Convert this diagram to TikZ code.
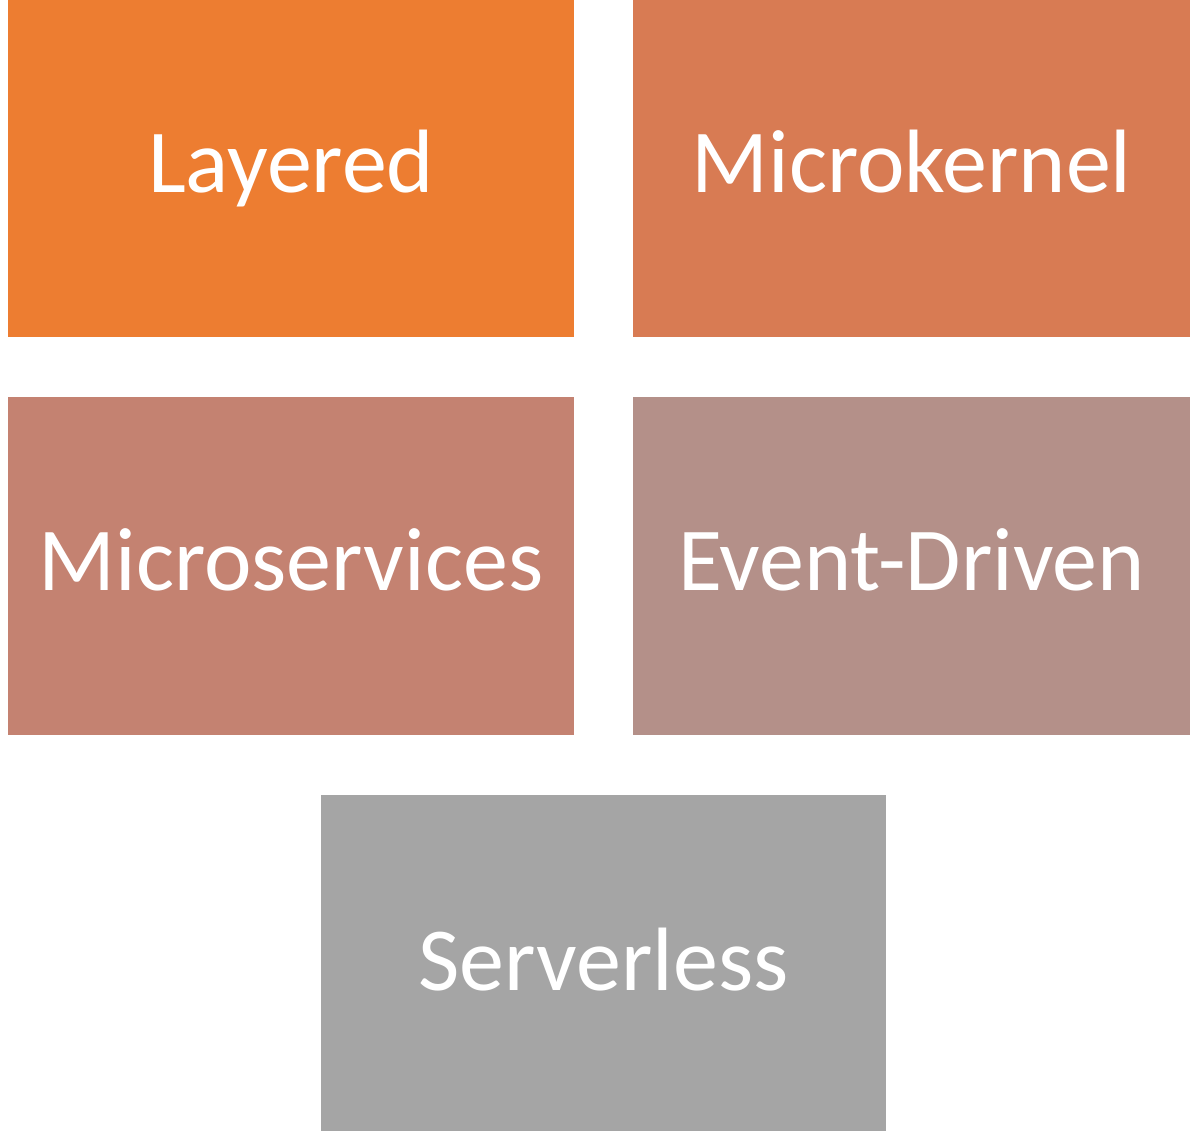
\documentclass[tikz,border=0pt]{standalone}
\usepackage{fontspec}
\setmainfont{Carlito}
\definecolor{clayered}{HTML}{ED7D31}
\definecolor{cmicrokernel}{HTML}{D87B53}
\definecolor{cmicroservices}{HTML}{C48271}
\definecolor{ceventdriven}{HTML}{B49089}
\definecolor{cserverless}{HTML}{A5A5A5}
\begin{document}
\begin{tikzpicture}[x=1pt,y=-1pt,
  tile/.style={draw=none,inner sep=0pt,minimum width=566pt,minimum height=337pt,
    text height=49pt,text depth=0pt,
    text=white,font=\fontsize{90}{100}\selectfont}]
  \useasboundingbox (0,0) rectangle (1190,1131);
  % two rows of pattern tiles, then the last one centred below
  \node[tile,fill=clayered,minimum width=566pt] (layered) at (291,168.5) {Layered};
  \node[tile,fill=cmicrokernel,minimum width=557pt] (microkernel) at (911.5,168.5) {Microkernel};
  \node[tile,fill=cmicroservices,minimum width=566pt,minimum height=338pt] (microservices) at (291,566) {Microservices};
  \node[tile,fill=ceventdriven,minimum width=557pt,minimum height=338pt] (eventdriven) at (911.5,566) {Event-Driven};
  \node[tile,fill=cserverless,minimum width=565pt,minimum height=336pt,text height=54pt] (serverless) at (603.5,963) {Serverless};
\end{tikzpicture}
\end{document}
